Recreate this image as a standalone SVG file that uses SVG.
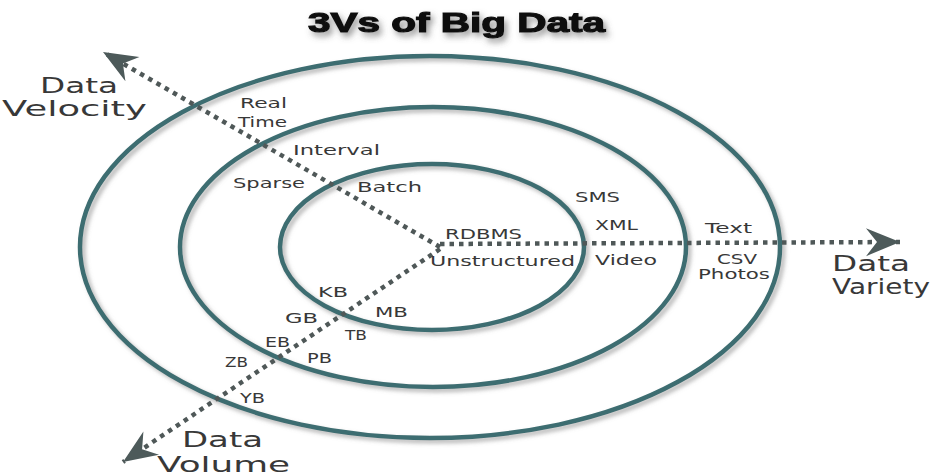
<svg xmlns="http://www.w3.org/2000/svg" width="932" height="476" viewBox="0 0 932 476">
  <defs>
    <style>
      .ring { fill: none; stroke: #3d6d71; stroke-width: 4.5; filter: url(#ringShadow); }
      .axis { fill: none; stroke: #4f5858; stroke-width: 4.5; stroke-dasharray: 4.5 5; marker-end: url(#chevron); }
      .lbl { font-family: "DejaVu Sans", "Liberation Sans", sans-serif; font-size: 14.5px; fill: #383838; }
      .big { font-family: "DejaVu Sans", "Liberation Sans", sans-serif; font-size: 21px; fill: #383838; }
      .title { font-family: "Liberation Sans", "DejaVu Sans", sans-serif; font-size: 28px; font-weight: 900; fill: #111; stroke: #111; stroke-width: 1.2; filter: url(#titleShadow); }
    </style>
    <filter id="ringShadow" x="-10%" y="-10%" width="120%" height="120%">
      <feDropShadow dx="3" dy="3" stdDeviation="2" flood-color="#777" flood-opacity="0.55"/>
    </filter>
    <filter id="titleShadow" x="-10%" y="-30%" width="120%" height="170%">
      <feDropShadow dx="3" dy="4" stdDeviation="3" flood-color="#555" flood-opacity="0.6"/>
    </filter>
    <marker id="chevron" markerUnits="userSpaceOnUse" viewBox="-36 -16 38 32" refX="0" refY="0" markerWidth="38" markerHeight="32" orient="auto">
      <path d="M0,0 L-34,-14 L-23,0 L-34,14 Z" fill="#4d5a5a"/>
    </marker>
  </defs>

  <rect width="932" height="476" fill="#ffffff"/>

  <text class="title" x="308" y="32" textLength="297" lengthAdjust="spacingAndGlyphs">3Vs of Big Data</text>

  <!-- concentric rings -->
  <g id="ring-outer"><ellipse class="ring" cx="430" cy="247" rx="350" ry="191"/></g>
  <g id="ring-middle"><ellipse class="ring" cx="433" cy="247" rx="253" ry="140"/></g>
  <g id="ring-inner"><ellipse class="ring" cx="432" cy="247" rx="152" ry="83"/></g>

  <!-- the three axes -->
  <g id="connectors">
    <path class="axis" d="M440,247 L103,52"/>
    <path class="axis" d="M440,244 L900,242"/>
    <path class="axis" d="M440,249 L123,462"/>
  </g>

  <!-- velocity axis -->
  <g id="velocity">
    <text class="big" x="40" y="93" textLength="78" lengthAdjust="spacingAndGlyphs">Data</text>
    <text class="big" x="2" y="116" textLength="145" lengthAdjust="spacingAndGlyphs">Velocity</text>
    <text class="lbl" x="240" y="108" textLength="47" lengthAdjust="spacingAndGlyphs">Real</text>
    <text class="lbl" x="238" y="127" textLength="49" lengthAdjust="spacingAndGlyphs">Time</text>
    <text class="lbl" x="293" y="155" textLength="87" lengthAdjust="spacingAndGlyphs">Interval</text>
    <text class="lbl" x="233" y="188" textLength="72" lengthAdjust="spacingAndGlyphs">Sparse</text>
    <text class="lbl" x="357" y="192" textLength="65" lengthAdjust="spacingAndGlyphs">Batch</text>
  </g>

  <!-- variety axis -->
  <g id="variety">
    <text class="lbl" x="445" y="239" textLength="77" lengthAdjust="spacingAndGlyphs">RDBMS</text>
    <text class="lbl" x="430" y="266" textLength="145" lengthAdjust="spacingAndGlyphs">Unstructured</text>
    <text class="lbl" x="575" y="202" textLength="45" lengthAdjust="spacingAndGlyphs">SMS</text>
    <text class="lbl" x="595" y="230" textLength="43" lengthAdjust="spacingAndGlyphs">XML</text>
    <text class="lbl" x="595" y="265" textLength="62" lengthAdjust="spacingAndGlyphs">Video</text>
    <text class="lbl" x="705" y="233" textLength="47" lengthAdjust="spacingAndGlyphs">Text</text>
    <text class="lbl" x="717" y="264" textLength="40" lengthAdjust="spacingAndGlyphs">CSV</text>
    <text class="lbl" x="698" y="279" textLength="72" lengthAdjust="spacingAndGlyphs">Photos</text>
    <text class="big" x="832" y="271" textLength="78" lengthAdjust="spacingAndGlyphs">Data</text>
    <text class="big" x="832" y="294" textLength="98" lengthAdjust="spacingAndGlyphs">Variety</text>
  </g>

  <!-- volume axis -->
  <g id="volume">
    <text class="lbl" x="318" y="297" textLength="30" lengthAdjust="spacingAndGlyphs">KB</text>
    <text class="lbl" x="375" y="317" textLength="33" lengthAdjust="spacingAndGlyphs">MB</text>
    <text class="lbl" x="285" y="323" textLength="33" lengthAdjust="spacingAndGlyphs">GB</text>
    <text class="lbl" x="345" y="340" textLength="22" lengthAdjust="spacingAndGlyphs">TB</text>
    <text class="lbl" x="265" y="347" textLength="25" lengthAdjust="spacingAndGlyphs">EB</text>
    <text class="lbl" x="307" y="363" textLength="25" lengthAdjust="spacingAndGlyphs">PB</text>
    <text class="lbl" x="225" y="367" textLength="23" lengthAdjust="spacingAndGlyphs">ZB</text>
    <text class="lbl" x="240" y="403" textLength="25" lengthAdjust="spacingAndGlyphs">YB</text>
    <text class="big" x="182" y="447" textLength="81" lengthAdjust="spacingAndGlyphs">Data</text>
    <text class="big" x="157" y="472" textLength="133" lengthAdjust="spacingAndGlyphs">Volume</text>
  </g>
</svg>
